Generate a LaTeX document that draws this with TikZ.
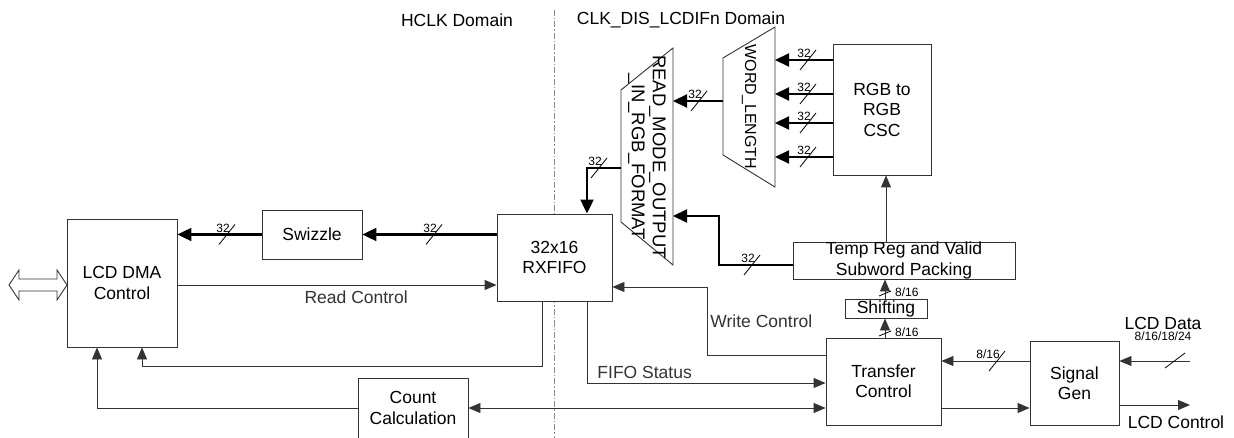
\documentclass[tikz,border=0pt]{standalone}
\usepackage{fontspec}
\setmainfont{Liberation Sans}
\usetikzlibrary{arrows.meta, positioning}
\definecolor{lcdline}{HTML}{333333}
\definecolor{lcddiv}{HTML}{8C8C8C}

% bus width tick (slash + label) on a horizontal / vertical bus
\newcommand{\buswidth}[3]{%
  \draw[black, line width=0.8pt] (#1-8,#2+10) -- (#1+8,#2-10);
  \node[lbl, anchor=south east] at (#1+3,#2-2) {#3};}
\newcommand{\vbuswidth}[3]{%
  \draw[black, line width=0.8pt] (#1-6,#2+3) -- (#1+6,#2-2);
  \node[lbl, anchor=west] at (#1+10,#2-1) {#3};}

\begin{document}
\begin{tikzpicture}[
      x=1pt, y=-1pt,
      font=\fontsize{17.5}{20.5}\selectfont,
      box/.style={draw=lcdline, fill=white, line width=0.9pt, align=center, inner sep=0pt},
      lbl/.style={font=\fontsize{12}{14}\selectfont, inner sep=0pt},
      ln/.style={lcdline, line width=0.9pt, -{Triangle[length=12pt, width=10pt]}},
      lnboth/.style={lcdline, line width=0.9pt,
                     {Triangle[length=12pt, width=10pt]}-{Triangle[length=12pt, width=10pt]}},
      bus/.style={black, line width=2.2pt, -{Triangle[length=14pt, width=13pt]}},
    ]
    \useasboundingbox (0,0) rectangle (1234,438);

    % ---------------- clock domain divider
    \draw[lcddiv, line width=0.9pt, dash pattern=on 6pt off 2pt on 1.5pt off 2pt]
      (554,10) -- (554,438);
    \node at (457,20) {HCLK Domain};
    \node at (681,20) {CLK\_DIS\_LCDIFn Domain};

    % ---------------- blocks
    \node[box, minimum width=110, minimum height=128] (dma)   at (122,283)    {LCD DMA\\Control};
    \node[box, minimum width=100, minimum height=49]  (swz)   at (312,234.5)  {Swizzle};
    \node[box, minimum width=115, minimum height=87]  (fifo)  at (554.5,257.5) {32x16\\RXFIFO};
    \node[box, minimum width=110, minimum height=60]  (cnt)   at (413,408)    {Count\\Calculation};
    \node[box, minimum width=115, minimum height=87]  (xfer)  at (883.5,381.5) {Transfer\\Control};
    \node[box, minimum width=89,  minimum height=84]  (sig)   at (1074.5,383) {Signal\\Gen};
    \node[box, minimum width=98,  minimum height=131] (csc)   at (882,109.5)  {RGB to\\RGB\\CSC};
    \node[box, minimum width=222, minimum height=37]  (temp)  at (904,260.5)  {Temp Reg and Valid\\Subword Packing};
    \node[box, minimum width=82,  minimum height=19]  (shift) at (886,308.5)  {Shifting};

    % ---------------- muxes
    \coordinate (wl-nw) at (723,58);  \coordinate (wl-ne) at (775,27);
    \coordinate (wl-se) at (775,187); \coordinate (wl-sw) at (723,155);
    \draw[lcdline, line width=0.9pt, fill=white] (wl-nw) -- (wl-ne) -- (wl-se) -- (wl-sw) -- cycle;
    \node[rotate=-90, font=\fontsize{16}{19}\selectfont] (wordlen) at (749,107) {WORD\_LENGTH};

    \coordinate (rm-nw) at (621,90);  \coordinate (rm-ne) at (673,48);
    \coordinate (rm-se) at (673,265); \coordinate (rm-sw) at (621,222);
    \draw[lcdline, line width=0.9pt, fill=white] (rm-nw) -- (rm-ne) -- (rm-se) -- (rm-sw) -- cycle;
    \node[rotate=-90, align=center, font=\fontsize{18.5}{21}\selectfont] (readmode) at (647,157)
      {READ\_MODE\_OUTPUT\\\_IN\_RGB\_FORMAT};

    % ---------------- system bus
    \draw[lcdline, line width=0.9pt, fill=white] (9,285) -- (19,270) -- (19,279) -- (57,279)
      -- (57,270) -- (67,285) -- (57,300) -- (57,291) -- (19,291) -- (19,300) -- cycle;

    % ---------------- read path
    \draw[bus] (swz.west) -- (swz.west -| dma.east);
    \buswidth{227}{234.5}{32}
    \draw[bus] (fifo.west |- swz.east) -- (swz.east);
    \buswidth{434}{234.5}{32}
    \draw[ln] (dma.east |- 0,285) -- node[pos=0.56, below=3pt, inner sep=2pt] {Read Control} (fifo.west |- 0,285);
    \draw[ln] (fifo.south -| 542,0) |- (142,366) -- (dma.south -| 142,0);
    \draw[ln] (cnt.west) -| (dma.south -| 97,0);
    \draw[lnboth] (cnt.east) -- (xfer.west |- cnt.east);

    % ---------------- pixel path
    \foreach \y in {60,94,123,157} {
      \draw[bus] (csc.west |- 0,\y) -- (wl-ne |- 0,\y);
      \buswidth{808}{\y}{32}
    }
    \draw[bus] (wl-nw |- 0,101) -- (rm-ne |- 0,101);
    \buswidth{699}{101}{32}
    \draw[bus] (rm-nw |- 0,168) -| (fifo.north -| 587,0);
    \buswidth{599}{168}{32}
    \draw[bus] (temp.west |- 0,265) -| (719,216) -- (rm-ne |- 0,216);
    \buswidth{752}{265}{32}
    \draw[ln] (temp.north -| 886,0) -- (csc.south -| 886,0);
    \draw[ln] (shift.north -| 885,0) -- (temp.south -| 885,0);
    \vbuswidth{885}{293}{8/16}
    \draw[ln] (xfer.north -| 885,0) -- (shift.south -| 885,0);
    \vbuswidth{885}{333}{8/16}

    % ---------------- transfer control
    \draw[ln] (xfer.west |- 0,355) -| node[pos=0.75, right=1pt, inner sep=2pt] {Write Control} (707,287)
      -- (fifo.east |- 0,287);
    \draw[ln] (fifo.south -| 587,0) |- node[pos=0.5, anchor=south west, inner sep=2pt, xshift=8pt, yshift=2pt]
      {FIFO Status} (xfer.west |- 0,383);
    \draw[ln] (sig.west |- 0,361) -- (xfer.east |- 0,361);
    \buswidth{997}{361}{8/16}
    \draw[ln] (xfer.east |- 0,408) -- (sig.west |- 0,408);

    % ---------------- LCD interface
    \coordinate (lcdin) at (1190,361);
    \coordinate (lcdout) at (1190,405);
    \draw[ln] (lcdin) -- (sig.east |- lcdin);
    \draw[black, line width=0.8pt] (1165,368) -- (1185,353);
    \node (lcddata) at (1163,323) {LCD Data};
    \node[lbl] (lcdwidth) at (1163,336) {8/16/18/24};
    \draw[ln] (sig.east |- lcdout) -- (lcdout);
    \node (lcdctrl) at (1176,422) {LCD Control};
  \end{tikzpicture}
\end{document}
